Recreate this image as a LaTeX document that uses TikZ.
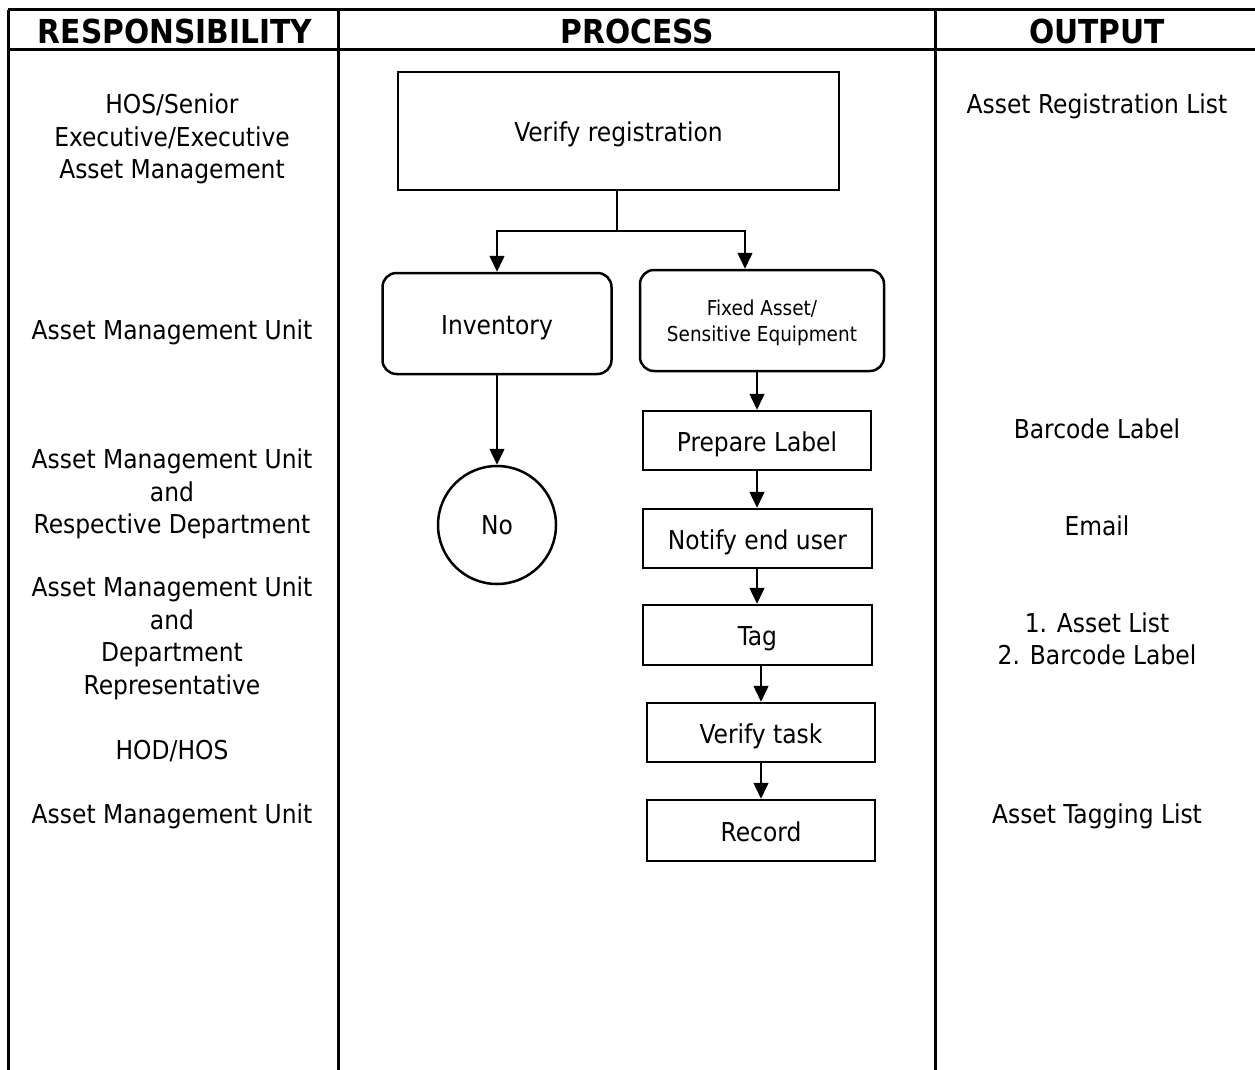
\documentclass[tikz,border=0pt]{standalone}
\usepackage{fontspec}
\setmainfont{DejaVu Sans Condensed}
\usepackage{tikz}
\usetikzlibrary{arrows.meta}

\begin{document}
\begin{tikzpicture}[x=1pt, y=-1pt, line width=1.5]
    \tikzstyle{txt}=[inner sep=0, align=center, font=\fontsize{26}{32.5}\selectfont]
    \tikzstyle{head}=[inner sep=0, font=\fontsize{33}{36}\selectfont\bfseries]
    \tikzstyle{box}=[draw, line width=2.5, inner sep=0, text height=21, text depth=0, minimum width=228, minimum height=59, font=\fontsize{26}{32.5}\selectfont]
    \tikzstyle{rbox}=[box, rounded corners=14, minimum height=101]
    \tikzstyle{arr}=[-{Triangle[width=15,length=16]}]
    \useasboundingbox (0,0) rectangle (1255,1070);
    % table
    \draw[line width=3] (8,10) -- (1255,10) (8,50) -- (1255,50);
    \draw[line width=3] (8,10) -- (8,1070) (338,10) -- (338,1070) (935,10) -- (935,1070);
    \node[head] (hresp) at (175,31) {RESPONSIBILITY};
    \node[head] (hproc) at (637,31) {PROCESS};
    \node[head] (hout) at (1097,31) {OUTPUT};
    % responsibility
    \node[txt] (r1) at (172,139) {HOS/Senior\\Executive/Executive\\Asset Management};
    \node[txt] (r2) at (172,332) {Asset Management Unit};
    \node[txt] (r3) at (172,494) {Asset Management Unit\\and\\Respective Department};
    \node[txt] (r4) at (172,638.5) {Asset Management Unit\\and\\Department\\Representative};
    \node[txt] (r5) at (172,751) {HOD/HOS};
    \node[txt] (r6) at (172,816) {Asset Management Unit};
    % output
    \node[txt] (o1) at (1097,106) {Asset Registration List};
    \node[txt] (o2) at (1097,429) {Barcode Label};
    \node[txt] (o3) at (1097,526) {Email};
    \node[txt] (o4) at (1097,639) {1. Asset List\\2. Barcode Label};
    \node[txt] (o5) at (1097,816) {Asset Tagging List};
    % process
    \node[box, minimum width=441, minimum height=118] (reg) at (618.5,131) {Verify registration};
    \node[rbox, minimum width=229] (inv) at (497,323.5) {Inventory};
    \node[rbox, minimum width=244, align=center, text height=42, font=\fontsize{20.5}{26}\selectfont] (fix) at (762,320.5) {Fixed Asset/\\Sensitive Equipment};
    \node[draw, circle, line width=2.5, minimum size=118, inner sep=0, font=\fontsize{26}{32.5}\selectfont] (no) at (497,525) {No};
    \node[box] (lab) at (757,440.5) {Prepare Label};
    \node[box, minimum width=229] (ntf) at (757.5,538.5) {Notify end user};
    \node[box, minimum width=229, minimum height=60] (tag) at (757.5,635) {Tag};
    \node[box] (vtk) at (761,732.5) {Verify task};
    \node[box, minimum height=61] (rec) at (761,830.5) {Record};
    \coordinate (split) at (617,231);
    \draw (reg.south -| split) -- (split);
    \draw[arr] (split) -| (inv.north);
    \draw[arr] (split) -| ([xshift=-17pt]fix.north);
    \draw[arr] (inv.south) -- (no.north);
    \draw[arr] (lab.north |- fix.south) -- (lab.north);
    \draw[arr] (lab.south) -- (lab.south |- ntf.north);
    \draw[arr] (lab.south |- ntf.south) -- (lab.south |- tag.north);
    \draw[arr] (vtk.north |- tag.south) -- (vtk.north);
    \draw[arr] (vtk.south) -- (rec.north);
\end{tikzpicture}
\end{document}
